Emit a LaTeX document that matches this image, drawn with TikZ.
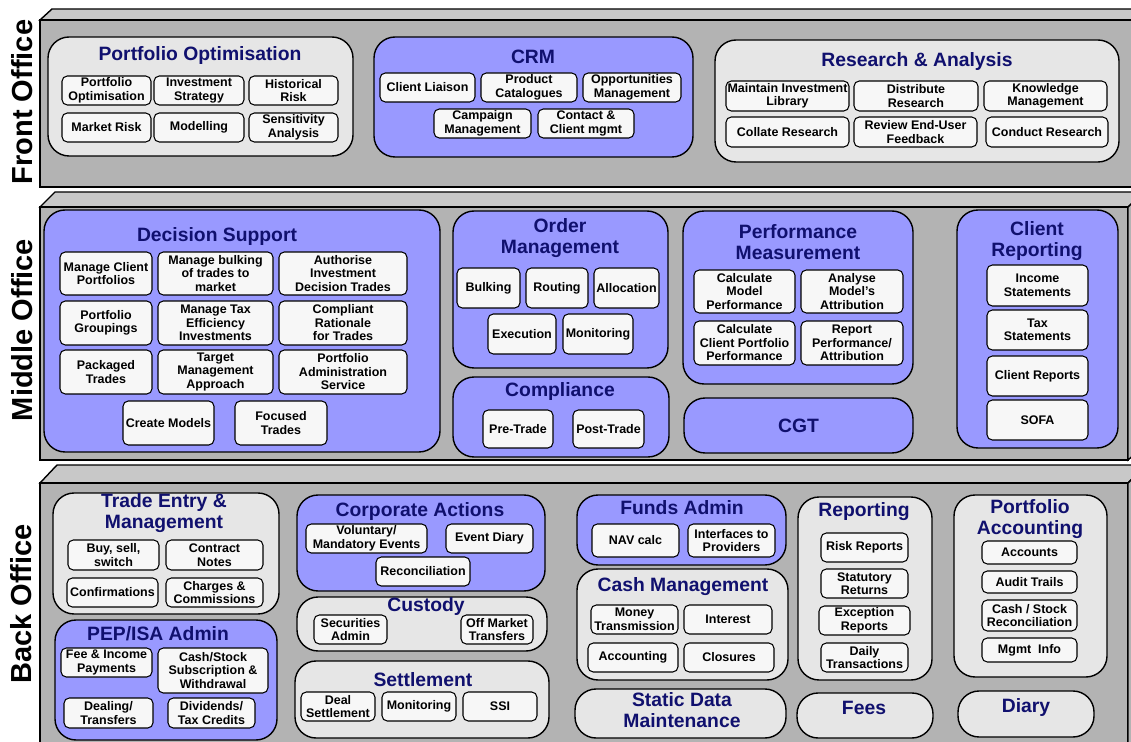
\documentclass[tikz,border=0pt]{standalone}
\usepackage{fontspec}
\setmainfont{Liberation Sans}
\usetikzlibrary{positioning}
\definecolor{slabFront}{RGB}{179,179,179}
\definecolor{slabTop}{RGB}{200,200,200}
\definecolor{grpBlue}{RGB}{153,153,255}
\definecolor{grpGrey}{RGB}{230,230,230}
\definecolor{cellWhite}{RGB}{247,247,247}
\definecolor{titleNavy}{RGB}{16,16,110}
\tikzset{
  slab/.style={draw=black,fill=slabFront,line width=0.8pt},
  slabtop/.style={draw=black,fill=slabTop,line width=0.8pt},
  cell/.style={draw=black,fill=cellWhite,rounded corners=3pt,line width=0.6pt,inner sep=0pt,align=center,
    font={\fontsize{7.1}{7.7}\selectfont\bfseries}},
  bluegrp/.style={draw=black,fill=grpBlue,rounded corners=12pt,line width=0.8pt,inner sep=0pt,align=center,
    text=titleNavy,font={\fontsize{11}{11.8}\selectfont\bfseries}},
  greygrp/.style={bluegrp,fill=grpGrey},
  grptitle/.style={text=titleNavy,align=center,inner sep=0pt,font={\fontsize{11}{11.8}\selectfont\bfseries}},
  office/.style={rotate=90,inner sep=0pt,font={\fontsize{16.5}{18}\selectfont\bfseries}}
}
% box from corner (x1,y1) to (x2,y2), in pixels of the layout
\newcommand{\CellBox}[7][cell]{%
  \node[#1,minimum width={(#5-#3)*0.02cm},minimum height={(#6-#4)*0.02cm}] (#2) at ({(#3+#5)/2},{(#4+#6)/2}) {#7};}

\begin{document}
\begin{tikzpicture}[x=0.02cm,y=-0.02cm]
\useasboundingbox (0,0) rectangle (1131,742);
\clip (0,0) rectangle (1131,742);

% the three offices
\draw[slabtop] (40,20) -- (52,9) -- (1145,9) -- (1145,20) -- cycle;
\draw[slab] (40,20) rectangle (1145,187);
\draw[slabtop] (40,207) -- (55,192) -- (1145,192) -- (1128,207) -- cycle;
\draw[slab] (40,207) rectangle (1128,460);
\draw[slab] (1128,207) -- (1145,190) -- (1145,445) -- (1128,460) -- cycle;
\draw[slabtop] (40,483) -- (57,465) -- (1145,465) -- (1128,483) -- cycle;
\draw[slab] (40,483) rectangle (1128,750);
\draw[slab] (1128,483) -- (1145,466) -- (1145,750) -- (1128,750) -- cycle;

\node[office] (front) at (22,102) {Front Office};
\node[office] (middle) at (22,330) {Middle Office};
\node[office] (back) at (21,604) {Back Office};

% Front Office
\CellBox[greygrp]{po}{48}{37}{353}{156}{}
\node[grptitle] (po-t) at (200,56) {Portfolio Optimisation};
\CellBox{po1}{62}{76}{151}{105}{Portfolio\\Optimisation}
\CellBox{po2}{154}{76}{244}{105}{Investment\\Strategy}
\CellBox{po3}{249}{76}{338}{105}{Historical\\Risk}
\CellBox{po4}{62}{113}{151}{142}{Market Risk}
\CellBox{po5}{154}{113}{244}{142}{Modelling}
\CellBox{po6}{249}{113}{338}{142}{Sensitivity\\Analysis}

\CellBox[bluegrp]{crm}{374}{37}{693}{157}{}
\node[grptitle] (crm-t) at (533,57) {CRM};
\CellBox{crm1}{380}{73}{475}{102}{Client Liaison}
\CellBox{crm2}{481}{73}{577}{102}{Product\\Catalogues}
\CellBox{crm3}{583}{73}{681}{102}{Opportunities\\Management}
\CellBox{crm4}{434}{109}{531}{138}{Campaign\\Management}
\CellBox{crm5}{538}{109}{634}{138}{Contact \&\\Client mgmt}

\CellBox[greygrp]{ra}{715}{40}{1119}{162}{}
\node[grptitle] (ra-t) at (917,62) {Research \& Analysis};
\CellBox{ra1}{726}{81}{849}{111}{Maintain Investment\\Library}
\CellBox{ra2}{854}{81}{978}{111}{Distribute\\Research}
\CellBox{ra3}{984}{81}{1107}{111}{Knowledge\\Management}
\CellBox{ra4}{726}{117}{849}{147}{Collate Research}
\CellBox{ra5}{854}{117}{977}{147}{Review End-User\\Feedback}
\CellBox{ra6}{986}{117}{1108}{147}{Conduct Research}

% Middle Office
\CellBox[bluegrp]{ds}{44}{210}{440}{452}{}
\node[grptitle] (ds-t) at (217,237) {Decision Support};
\CellBox{ds1}{60}{252}{152}{295}{Manage Client\\Portfolios}
\CellBox{ds2}{158}{252}{273}{295}{Manage bulking\\of trades to\\market}
\CellBox{ds3}{279}{252}{407}{295}{Authorise\\Investment\\Decision Trades}
\CellBox{ds4}{60}{301}{152}{345}{Portfolio\\Groupings}
\CellBox{ds5}{158}{301}{273}{345}{Manage Tax\\Efficiency\\Investments}
\CellBox{ds6}{279}{301}{407}{345}{Compliant\\Rationale\\for Trades}
\CellBox{ds7}{60}{350}{152}{394}{Packaged\\Trades}
\CellBox{ds8}{158}{350}{273}{394}{Target\\Management\\Approach}
\CellBox{ds9}{279}{350}{407}{394}{Portfolio\\Administration\\Service}
\CellBox{ds10}{123}{401}{214}{445}{Create Models}
\CellBox{ds11}{235}{401}{327}{445}{Focused\\Trades}

\CellBox[bluegrp]{om}{453}{211}{668}{368}{}
\node[grptitle] (om-t) at (560,238) {Order\\Management};
\CellBox{om1}{457}{268}{520}{308}{Bulking}
\CellBox{om2}{526}{268}{588}{308}{Routing}
\CellBox{om3}{594}{268}{659}{308}{Allocation}
\CellBox{om4}{488}{314}{556}{354}{Execution}
\CellBox{om5}{563}{314}{633}{354}{Monitoring}

\CellBox[bluegrp]{cp}{453}{377}{669}{457}{}
\node[grptitle] (cp-t) at (560,392) {Compliance};
\CellBox{cp1}{483}{410}{553}{448}{Pre-Trade}
\CellBox{cp2}{573}{410}{644}{448}{Post-Trade}

\CellBox[bluegrp]{pm}{683}{211}{913}{384}{}
\node[grptitle] (pm-t) at (798,242) {Performance\\Measurement};
\CellBox{pm1}{694}{270}{795}{313}{Calculate\\Model\\Performance}
\CellBox{pm2}{801}{270}{903}{313}{Analyse\\Model’s\\Attribution}
\CellBox{pm3}{694}{321}{795}{365}{Calculate\\Client Portfolio\\Performance}
\CellBox{pm4}{801}{321}{903}{365}{Report\\Performance/\\Attribution}

\CellBox[bluegrp]{cgt}{684}{398}{913}{453}{CGT}

\CellBox[bluegrp]{cr}{957}{210}{1118}{448}{}
\node[grptitle] (cr-t) at (1037,241) {Client\\Reporting};
\CellBox{cr1}{987}{265}{1088}{306}{Income\\Statements}
\CellBox{cr2}{987}{310}{1088}{350}{Tax\\Statements}
\CellBox{cr3}{987}{356}{1088}{396}{Client Reports}
\CellBox{cr4}{987}{400}{1088}{440}{SOFA}

% Back Office
\CellBox[greygrp]{te}{53}{493}{279}{614}{}
\node[grptitle] (te-t) at (164,513) {Trade Entry \&\\Management};
\CellBox{te1}{68}{540}{159}{570}{Buy, sell,\\switch}
\CellBox{te2}{166}{540}{263}{570}{Contract\\Notes}
\CellBox{te3}{67}{578}{158}{607}{Confirmations}
\CellBox{te4}{166}{578}{263}{607}{Charges \&\\Commissions}

\CellBox[bluegrp]{pep}{55}{620}{277}{740}{}
\node[grptitle] (pep-t) at (158,634) {PEP/ISA Admin};
\CellBox{pep1}{61}{648}{152}{677}{Fee \& Income\\Payments}
\CellBox{pep2}{158}{648}{268}{693}{Cash/Stock\\Subscription \&\\Withdrawal}
\CellBox{pep3}{64}{698}{153}{728}{Dealing/\\Transfers}
\CellBox{pep4}{168}{698}{255}{728}{Dividends/\\Tax Credits}

\CellBox[bluegrp]{ca}{297}{495}{545}{591}{}
\node[grptitle] (ca-t) at (420,512) {Corporate Actions};
\CellBox{ca1}{306}{524}{427}{553}{Voluntary/\\Mandatory Events}
\CellBox{ca2}{446}{524}{533}{553}{Event Diary}
\CellBox{ca3}{376}{557}{470}{586}{Reconciliation}

\CellBox[greygrp]{cu}{297}{597}{547}{651}{}
\node[grptitle] (cu-t) at (426,607) {Custody};
\CellBox{cu1}{314}{615}{387}{644}{Securities\\Admin}
\CellBox{cu2}{461}{615}{533}{644}{Off Market\\Transfers}

\CellBox[greygrp]{se}{295}{661}{549}{738}{}
\node[grptitle] (se-t) at (423,680) {Settlement};
\CellBox{se1}{301}{692}{375}{721}{Deal\\Settlement}
\CellBox{se2}{382}{692}{456}{721}{Monitoring}
\CellBox{se3}{463}{692}{537}{721}{SSI}

\CellBox[bluegrp]{fa}{577}{495}{786}{565}{}
\node[grptitle] (fa-t) at (682,508) {Funds Admin};
\CellBox{fa1}{592}{524}{679}{557}{NAV calc}
\CellBox{fa2}{688}{524}{775}{557}{Interfaces to\\Providers}

\CellBox[greygrp]{cm}{577}{569}{788}{680}{}
\node[grptitle] (cm-t) at (683,587) {Cash Management};
\CellBox{cm1}{591}{605}{678}{634}{Money\\Transmission}
\CellBox{cm2}{684}{605}{772}{634}{Interest}
\CellBox{cm3}{588}{643}{678}{672}{Accounting}
\CellBox{cm4}{684}{643}{774}{672}{Closures}

\CellBox[greygrp]{sd}{575}{689}{786}{738}{}
\node[grptitle] (sd-t) at (682,710) {Static Data\\Maintenance};

\CellBox[greygrp]{rp}{798}{497}{932}{680}{}
\node[grptitle] (rp-t) at (864,512) {Reporting};
\CellBox{rp1}{821}{533}{908}{562}{Risk Reports}
\CellBox{rp2}{821}{569}{908}{598}{Statutory\\Returns}
\CellBox{rp3}{819}{606}{910}{635}{Exception\\Reports}
\CellBox{rp4}{821}{643}{908}{672}{Daily\\Transactions}

\CellBox[greygrp]{fees}{797}{693}{933}{738}{}
\node[grptitle] (fees-t) at (864,708) {Fees};

\CellBox[greygrp]{pa}{954}{495}{1107}{677}{}
\node[grptitle] (pa-t) at (1030,519) {Portfolio\\Accounting};
\CellBox{pa1}{982}{541}{1077}{564}{Accounts}
\CellBox{pa2}{982}{571}{1077}{593}{Audit Trails}
\CellBox{pa3}{982}{600}{1077}{631}{Cash / Stock\\Reconciliation}
\CellBox{pa4}{982}{638}{1077}{662}{Mgmt\ \ Info}

\CellBox[greygrp]{diary}{958}{691}{1094}{737}{}
\node[grptitle] (diary-t) at (1026,707) {Diary};
\end{tikzpicture}
\end{document}
